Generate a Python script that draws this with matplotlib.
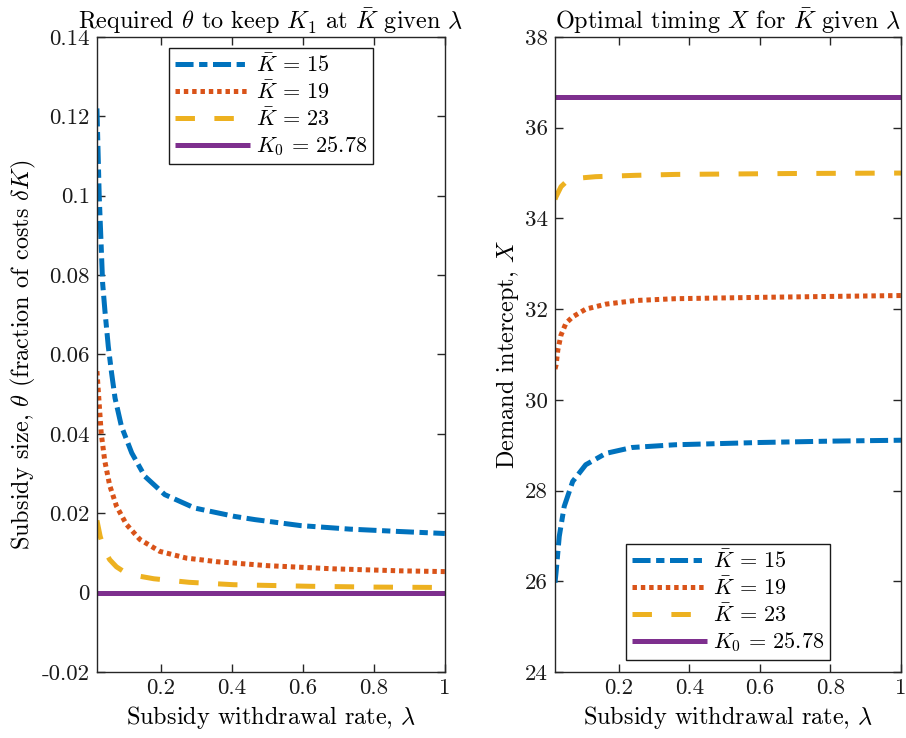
import matplotlib
matplotlib.use("Agg")
import matplotlib.pyplot as plt

plt.rcParams['font.family'] = 'serif'
plt.rcParams['font.serif'] = ['cmr10']
plt.rcParams['mathtext.fontset'] = 'cm'
plt.rcParams['axes.unicode_minus'] = False
plt.rcParams['lines.scale_dashes'] = False

# ---- left panel: required subsidy theta vs lambda ----
lamA15 = [0.02, 0.0264, 0.0312, 0.036, 0.0425, 0.052, 0.061, 0.071, 0.089, 0.118,
          0.155, 0.211, 0.296, 0.408, 0.465, 0.593, 0.733, 0.873, 1.0]
thA15 = [0.122, 0.0999, 0.089, 0.078, 0.071, 0.062, 0.0555, 0.049, 0.0419, 0.0352,
         0.0293, 0.0247, 0.0213, 0.0192, 0.0184, 0.0169, 0.0160, 0.0154, 0.0149]
lamA19 = [0.02, 0.026, 0.032, 0.042, 0.056, 0.075, 0.103, 0.141, 0.197, 0.272,
          0.33, 0.357, 0.5, 0.686, 0.873, 1.0]
thA19 = [0.0558, 0.0480, 0.0402, 0.0332, 0.0270, 0.0218, 0.0172, 0.0134, 0.0104, 0.0087,
         0.0081, 0.0078, 0.0068, 0.0060, 0.0055, 0.0053]
lamA23 = [0.02, 0.029, 0.042, 0.056, 0.075, 0.094, 0.13, 0.18, 0.28, 0.405, 0.62, 0.8, 1.0]
thA23 = [0.0182, 0.0142, 0.0105, 0.0083, 0.0065, 0.0054, 0.0043, 0.0035, 0.0026,
         0.0020, 0.0016, 0.0014, 0.0013]
lamA0 = [0.02, 1.0]
thA0 = [0.0, 0.0]

# ---- right panel: optimal timing X vs lambda ----
lamB15 = [0.02, 0.023, 0.032, 0.046, 0.07, 0.107, 0.164, 0.238, 0.36, 0.6, 0.8, 1.0]
xB15 = [25.97, 26.2, 26.99, 27.65, 28.20, 28.57, 28.82, 28.95, 29.01, 29.06, 29.09, 29.11]
lamB19 = [0.02, 0.023, 0.028, 0.037, 0.051, 0.07, 0.107, 0.164, 0.248, 0.36, 0.6, 0.8, 1.0]
xB19 = [30.68, 30.77, 31.10, 31.43, 31.69, 31.83, 32.0, 32.11, 32.19, 32.23, 32.26, 32.28, 32.30]
lamB23 = [0.02, 0.023, 0.037, 0.056, 0.09, 0.135, 0.248, 0.361, 0.694, 1.0]
xB23 = [34.42, 34.48, 34.70, 34.84, 34.89, 34.92, 34.95, 34.97, 34.99, 35.0]
lamB0 = [0.02, 1.0]
xB0 = [36.67, 36.67]

xticks = [0.2, 0.4, 0.6, 0.8, 1.0]
xticklabels = ['0.2', '0.4', '0.6', '0.8', '1']
yticksA = [-0.02, 0, 0.02, 0.04, 0.06, 0.08, 0.1, 0.12, 0.14]
yticklabelsA = ['-0.02', '0', '0.02', '0.04', '0.06', '0.08', '0.1', '0.12', '0.14']
yticksB = [24, 26, 28, 30, 32, 34, 36, 38]
yticklabelsB = ['24', '26', '28', '30', '32', '34', '36', '38']

labels = [r'$\bar{K}\,=\,15$', r'$\bar{K}\,=\,19$', r'$\bar{K}\,=\,23$', r'$K_0\,=\,25.78$']

blue = '#0072BD'
red = '#D95319'
yellow = '#EDB120'
purple = '#7E2F8E'
axcol = '#262626'
lw = 3.6

fig = plt.figure(figsize=(9.06, 7.38), dpi=100)
axA = fig.add_axes([0.107, 0.0894, 0.384, 0.8605])
axB = fig.add_axes([0.6126, 0.0894, 0.382, 0.8605])


def draw(ax, series):
    styles = [(blue, (13, 4, 6, 4)), (red, (3.2, 2.8)), (yellow, (14, 14)), (purple, None)]
    for (xs, ys, lab), (col, dash) in zip(series, styles):
        if dash is None:
            ax.plot(xs, ys, color=col, lw=lw, label=lab, solid_capstyle='butt')
        else:
            ax.plot(xs, ys, color=col, lw=lw, label=lab, dashes=dash, dash_capstyle='butt')


def style(ax, yt, ytl, ylim):
    ax.set_xlim(0.02, 1.0)
    ax.set_ylim(*ylim)
    ax.set_xticks(xticks, xticklabels)
    ax.set_yticks(yt, ytl)
    ax.tick_params(direction='in', length=6, width=1, top=True, right=True,
                   labelsize=16.5, colors=axcol, labelcolor='#1a1a1a', pad=5)
    for sp in ax.spines.values():
        sp.set_color(axcol)
        sp.set_linewidth(1)


def legend(ax, loc, anchor):
    leg = ax.legend(loc=loc, bbox_to_anchor=anchor, fontsize=16,
                    handlelength=3.4, fancybox=False, framealpha=1, edgecolor='#1a1a1a',
                    borderpad=0.25, labelspacing=0.2, handletextpad=0.25, borderaxespad=0)
    leg.get_frame().set_linewidth(1)


draw(axA, [(lamA15, thA15, labels[0]), (lamA19, thA19, labels[1]),
           (lamA23, thA23, labels[2]), (lamA0, thA0, labels[3])])
style(axA, yticksA, yticklabelsA, (-0.02, 0.14))
axA.set_title(r'Required $\theta$ to keep $K_1$ at $\bar{K}$ given $\lambda$', fontsize=17.5, pad=6)
axA.set_xlabel(r'Subsidy withdrawal rate, $\lambda$', fontsize=17.5, labelpad=4)
axA.set_ylabel(r'Subsidy size, $\theta$ (fraction of costs $\delta K$)', fontsize=17.5, labelpad=3)
legend(axA, 'upper center', (0.5, 0.983))

draw(axB, [(lamB15, xB15, labels[0]), (lamB19, xB19, labels[1]),
           (lamB23, xB23, labels[2]), (lamB0, xB0, labels[3])])
style(axB, yticksB, yticklabelsB, (24, 38))
axB.set_title(r'Optimal timing $X$ for $\bar{K}$ given $\lambda$', fontsize=17.5, pad=6)
axB.set_xlabel(r'Subsidy withdrawal rate, $\lambda$', fontsize=17.5, labelpad=4)
axB.set_ylabel(r'Demand intercept, $X$', fontsize=17.5, labelpad=3)
legend(axB, 'lower center', (0.5, 0.019))

fig.savefig('out.png', dpi=100)
